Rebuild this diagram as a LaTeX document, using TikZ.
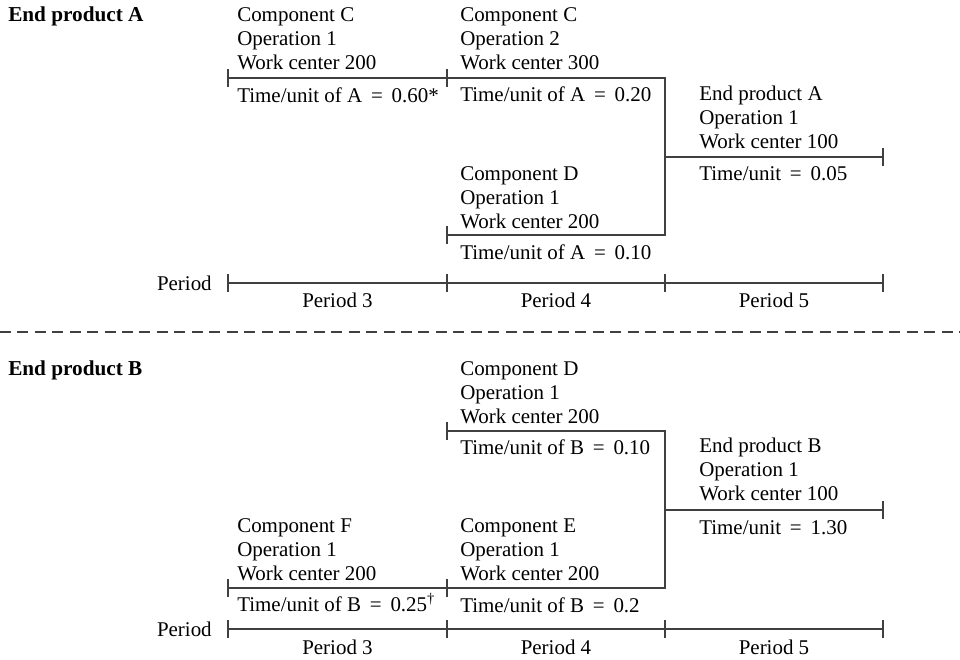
\documentclass[tikz,border=0pt]{standalone}
\usepackage{fontspec}
\setmainfont{Liberation Serif}
\usetikzlibrary{positioning}
\newcommand{\eqsign}{\hspace{0.42em}=\hspace{0.42em}}

\begin{document}
\begin{tikzpicture}[x=0.025cm,y=-0.025cm,
  bar/.style={draw=black!75,line width=0.8pt},
  txt/.style={inner sep=0pt,anchor=base west,font=\fontsize{14.9}{17.1}\selectfont},
  op/.style={txt,align=left,anchor=south west},
  head/.style={txt,font=\fontsize{15.1}{17.1}\selectfont\bfseries},
  per/.style={txt,anchor=base}]
  \useasboundingbox (0,0) rectangle (960,659);
  % End product A
  \node[head] (headA) at (8,21) {End product A};
  \coordinate (c1s) at (228,78);
  \coordinate (c2s) at (447,78);
  \coordinate (jA) at (665,157);
  \coordinate (eA) at (883,157);
  \coordinate (dAs) at (447,235);
  \coordinate (dAe) at (665,235);
  \draw[bar] (c1s) -- (c2s);
  \draw[bar] (c2s) -| (dAe) -- (dAs);
  \draw[bar] (jA) -- (eA);
  \node[op] (opC1) at (237,70) {Component C\\Operation 1\\Work center 200};
  \node[txt] (tC1) at (237,102) {Time/unit of A\eqsign 0.60*};
  \node[op] (opC2) at (460,70) {Component C\\Operation 2\\Work center 300};
  \node[txt] (tC2) at (460,101) {Time/unit of A\eqsign 0.20};
  \node[op] (opDA) at (460,229) {Component D\\Operation 1\\Work center 200};
  \node[txt] (tDA) at (460,259) {Time/unit of A\eqsign 0.10};
  \node[op] (opA) at (699,149) {End product A\\Operation 1\\Work center 100};
  \node[txt] (tA) at (699,180) {Time/unit\eqsign 0.05};
  % Periods A
  \coordinate (pa0) at (228,283);
  \coordinate (pa1) at (447,283);
  \coordinate (pa2) at (665,283);
  \coordinate (pa3) at (883,283);
  \draw[bar] (pa0) -- (pa3);
  \node[txt,anchor=base east] (perA) at (212,290) {Period};
  \node[per] (pa3l) at (337.5,307) {Period 3};
  \node[per] (pa4l) at (556,307) {Period 4};
  \node[per] (pa5l) at (774,307) {Period 5};
  % Separator
  \coordinate (sepl) at (0,332);
  \coordinate (sepr) at (960,332);
  \draw[bar,dash pattern=on 7.8pt off 4.6pt] (sepl) -- (sepr);
  % End product B
  \node[head] (headB) at (8,375) {End product B};
  \coordinate (dBs) at (447,431);
  \coordinate (dBe) at (665,431);
  \coordinate (jB) at (665,510);
  \coordinate (eB) at (883,510);
  \coordinate (fs) at (228,588);
  \coordinate (es) at (447,588);
  \coordinate (ee) at (665,588);
  \draw[bar] (dBs) -- (dBe) -- (ee) -- (es) -- (fs);
  \draw[bar] (jB) -- (eB);
  \node[op] (opDB) at (460,424) {Component D\\Operation 1\\Work center 200};
  \node[txt] (tDB) at (460,454) {Time/unit of B\eqsign 0.10};
  \node[op] (opB) at (699,501) {End product B\\Operation 1\\Work center 100};
  \node[txt] (tB) at (699,534) {Time/unit\eqsign 1.30};
  \node[op] (opF) at (237,581) {Component F\\Operation 1\\Work center 200};
  \node[txt] (tF) at (237,611) {Time/unit of B\eqsign 0.25\textsuperscript{†}};
  \node[op] (opE) at (460,581) {Component E\\Operation 1\\Work center 200};
  \node[txt] (tE) at (460,612) {Time/unit of B\eqsign 0.2};
  % Periods B
  \coordinate (pb0) at (228,629);
  \coordinate (pb1) at (447,629);
  \coordinate (pb2) at (665,629);
  \coordinate (pb3) at (883,629);
  \draw[bar] (pb0) -- (pb3);
  \node[txt,anchor=base east] (perB) at (212,636) {Period};
  \node[per] (pb3l) at (337.5,654) {Period 3};
  \node[per] (pb4l) at (556,654) {Period 4};
  \node[per] (pb5l) at (774,654) {Period 5};
  % Ticks
  \foreach \c in {c1s,c2s,dAs,eA,pa0,pa1,pa2,pa3,dBs,eB,fs,es,pb0,pb1,pb2,pb3}
    \draw[bar] (\c) ++(0,-9) -- ++(0,18);
\end{tikzpicture}
\end{document}
